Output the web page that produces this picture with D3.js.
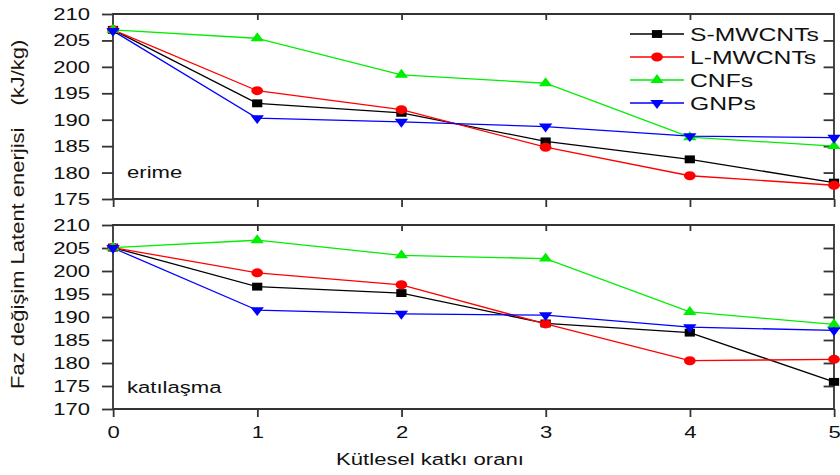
<!DOCTYPE html>
<html>
<head>
<meta charset="utf-8">
<script src="https://cdn.jsdelivr.net/npm/d3@7/dist/d3.min.js"></script>
<style>
  html, body { margin: 0; padding: 0; background: #fff; }
  svg { display: block; }
  text { font-family: "Liberation Sans", Arial, sans-serif; }
</style>
</head>
<body>
<svg id="chart" width="840" height="475"></svg>
<script>
// ---- data ----
const xValues = [0, 1, 2, 3, 4, 5];
const seriesNames = ["S-MWCNTs", "L-MWCNTs", "CNFs", "GNPs"];
const seriesColors = ["#000000", "#ff0000", "#00ee00", "#0000ff"];
const seriesSymbols = ["square", "circle", "triangle", "triangleDown"];

// erime (melting) panel
const meltS = [207.0, 193.1, 191.3, 185.9, 182.5, 178.1];
const meltL = [207.0, 195.5, 191.9, 184.8, 179.4, 177.6];
const meltC = [207.0, 205.4, 198.5, 196.9, 186.7, 185.0];
const meltG = [206.8, 190.3, 189.6, 188.7, 186.9, 186.6];

// katılaşma (solidification) panel
const solidS = [205.1, 196.6, 195.2, 188.6, 186.6, 175.9];
const solidL = [205.1, 199.6, 197.0, 188.5, 180.5, 180.8];
const solidC = [205.1, 206.7, 203.4, 202.7, 191.1, 188.4];
const solidG = [205.0, 191.5, 190.7, 190.4, 187.8, 187.1];

const topTicks = [175, 180, 185, 190, 195, 200, 205, 210];
const bottomTicks = [170, 175, 180, 185, 190, 195, 200, 205, 210];

const yLabelMain = "Faz değişim Latent enerjisi";
const yLabelUnit = "(kJ/kg)";
const xLabel = "Kütlesel katkı oranı";
const topPanelLabel = "erime";
const bottomPanelLabel = "katılaşma";

// ---- layout ----
const SX = 1.3; // horizontal stretch of the reference image
const svg = d3.select("#chart");
const g = svg.append("g").attr("transform", `scale(${SX},1)`);

const x = d3.scaleLinear().domain([0, 5]).range([113 / SX, 834 / SX]);
const yTop = d3.scaleLinear().domain([175, 210]).range([199, 14]);
const yBot = d3.scaleLinear().domain([170, 210]).range([409, 225]);

const axisColor = "#333";
const fontSize = 17;

const symbolMap = {
  square: d3.symbol().type(d3.symbolSquare).size(62),
  circle: d3.symbol().type(d3.symbolCircle).size(64),
  triangle: d3.symbol().type(d3.symbolTriangle).size(46),
  triangleDown: d3.symbol().type(d3.symbolTriangle).size(46)
};

function styleAxis(sel) {
  sel.selectAll("line, path")
    .attr("stroke", axisColor)
    .attr("stroke-width", 1.8)
    .attr("vector-effect", "non-scaling-stroke");
  sel.selectAll("text")
    .attr("fill", "#111")
    .style("font-size", fontSize + "px")
    .style("font-family", '"Liberation Sans", Arial, sans-serif');
  sel.select(".domain").remove();
}

function drawPanel(y, ticks, data, label, labelY, showXLabels) {
  const x0 = x.range()[0], x1 = x.range()[1];
  const yr = y.range();

  // left axis
  g.append("g").attr("transform", `translate(${x0},0)`)
    .call(d3.axisLeft(y).tickValues(ticks).tickSize(8.5).tickSizeOuter(0).tickPadding(9.2).tickFormat(d3.format("d")))
    .call(styleAxis);
  // right axis (inward ticks)
  g.append("g").attr("transform", `translate(${x1},0)`)
    .call(d3.axisRight(y).tickValues(ticks.slice(1, -1)).tickSize(-8).tickSizeOuter(0).tickFormat(""))
    .call(styleAxis);
  // top axis (inward)
  g.append("g").attr("transform", `translate(0,${yr[1]})`)
    .call(d3.axisTop(x).tickValues(xValues.slice(1, -1)).tickSize(-6).tickSizeOuter(0).tickFormat(""))
    .call(styleAxis);
  // bottom axis (outward)
  const bAxis = d3.axisBottom(x).tickValues(xValues).tickSize(8).tickSizeOuter(0).tickPadding(9)
    .tickFormat(showXLabels ? d3.format("d") : "");
  g.append("g").attr("transform", `translate(0,${yr[0]})`)
    .call(bAxis)
    .call(styleAxis);

  // frame
  g.append("rect")
    .attr("x", x0).attr("y", yr[1])
    .attr("width", x1 - x0).attr("height", yr[0] - yr[1])
    .attr("fill", "none").attr("stroke", axisColor).attr("stroke-width", 1.8)
    .attr("vector-effect", "non-scaling-stroke");

  // series
  data.forEach((vals, i) => {
    const pts = vals.map((v, j) => [x(xValues[j]), y(v)]);
    g.append("path")
      .attr("d", d3.line()(pts))
      .attr("fill", "none")
      .attr("stroke", seriesColors[i])
      .attr("stroke-width", 1.3)
      .attr("vector-effect", "non-scaling-stroke");
  });
  data.forEach((vals, i) => {
    const sym = seriesSymbols[i];
    g.append("g").selectAll("path").data(vals).join("path")
      .attr("d", symbolMap[sym]())
      .attr("transform", (v, j) => `translate(${x(xValues[j])},${y(v)})` + (sym === "triangleDown" ? " rotate(180)" : ""))
      .attr("fill", seriesColors[i]);
  });

  // panel label
  g.append("text")
    .attr("x", 127 / SX).attr("y", labelY)
    .attr("fill", "#111")
    .style("font-size", fontSize + "px")
    .text(label);
}

drawPanel(yTop, topTicks, [meltS, meltL, meltC, meltG], topPanelLabel, 178, false);
drawPanel(yBot, bottomTicks, [solidS, solidL, solidC, solidG], bottomPanelLabel, 393, true);

// legend
const legY = [34, 57, 80, 103];
seriesNames.forEach((name, i) => {
  const lg = g.append("g");
  lg.append("line")
    .attr("x1", 630 / SX).attr("x2", 684 / SX)
    .attr("y1", legY[i]).attr("y2", legY[i])
    .attr("stroke", seriesColors[i]).attr("stroke-width", 1.3)
    .attr("vector-effect", "non-scaling-stroke");
  const sym = seriesSymbols[i];
  lg.append("path")
    .attr("d", symbolMap[sym]())
    .attr("transform", `translate(${657 / SX},${legY[i]})` + (sym === "triangleDown" ? " rotate(180)" : ""))
    .attr("fill", seriesColors[i]);
  lg.append("text")
    .attr("x", 690 / SX).attr("y", legY[i]).attr("dy", "0.36em")
    .attr("fill", "#111")
    .style("font-size", "19px")
    .text(name);
});

// x axis title
g.append("text")
  .attr("x", 430 / SX).attr("y", 465)
  .attr("text-anchor", "middle")
  .attr("fill", "#111")
  .style("font-size", fontSize + "px")
  .text(xLabel);

// y axis title (not stretched)
const yt = svg.append("text")
  .attr("transform", "translate(24,389) scale(0.8,1) rotate(-90)")
  .attr("text-anchor", "start")
  .attr("fill", "#1e160c")
  .style("font-size", "22px");
yt.append("tspan").text(yLabelMain);
yt.append("tspan").attr("dx", 22).text(yLabelUnit);
</script>
</body>
</html>
